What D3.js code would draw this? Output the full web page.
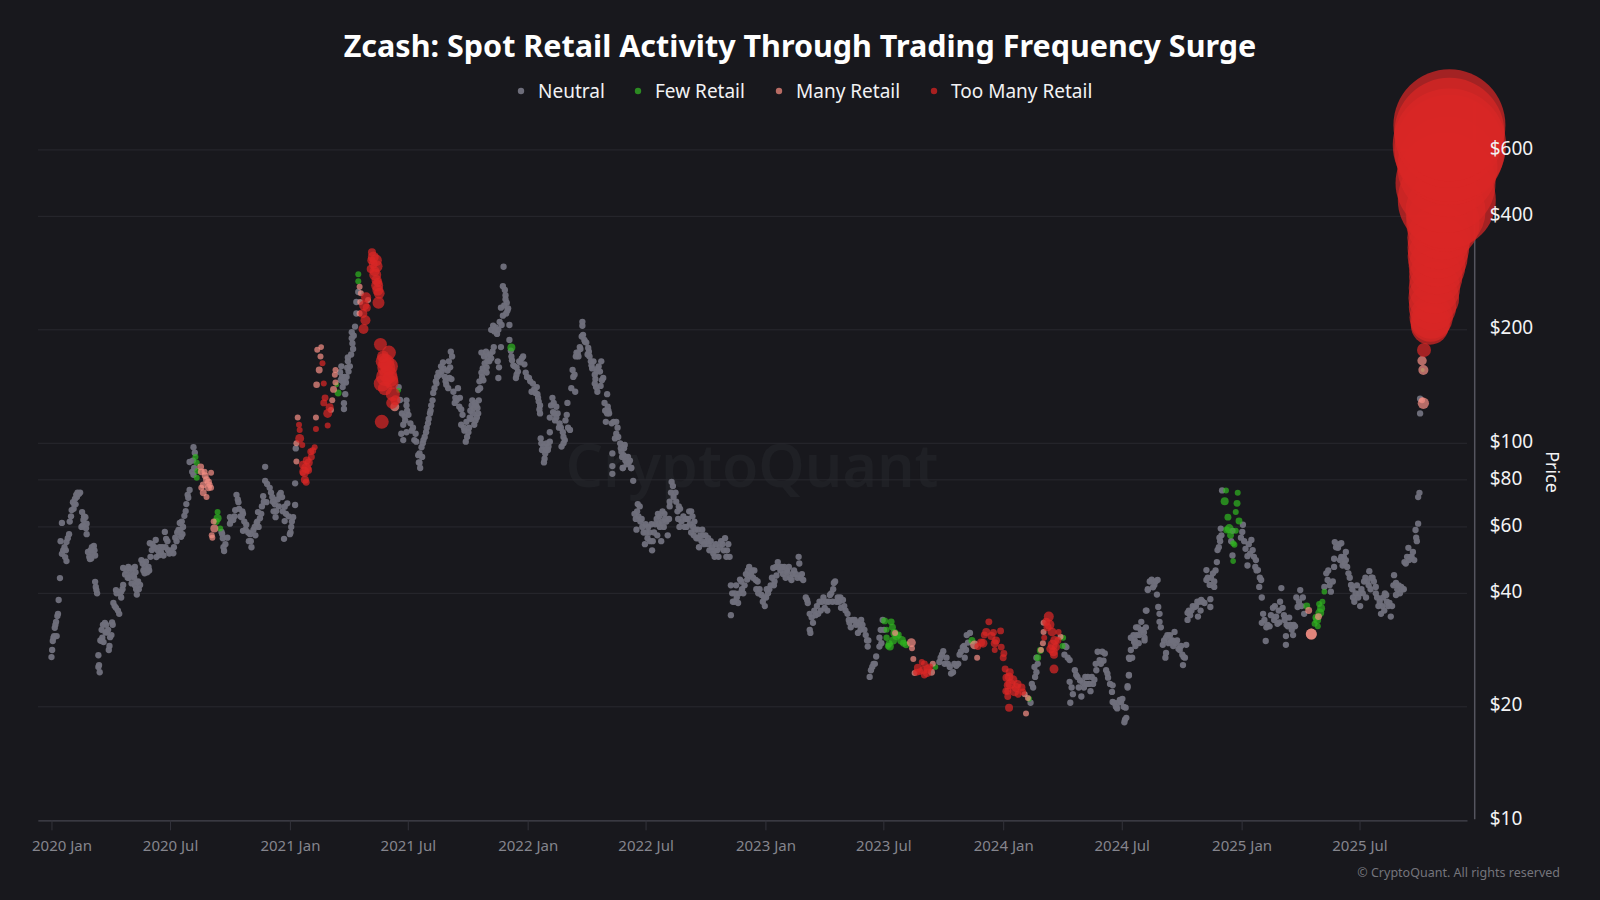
<!DOCTYPE html>
<html>
<head>
<meta charset="utf-8">
<script src="https://cdnjs.cloudflare.com/ajax/libs/d3/7.8.5/d3.min.js"></script>
<style>
  html, body { margin: 0; background: #18181d; }
  svg { display: block; font-family: "Noto Sans", "Open Sans", sans-serif; }
</style>
</head>
<body>
<svg id="chart"></svg>
<script>
const width = 1600;
const height = 900;

const titleText = "Zcash: Spot Retail Activity Through Trading Frequency Surge";
const seriesNames = ["Neutral", "Few Retail", "Many Retail", "Too Many Retail"];
const priceTicks = [10, 20, 40, 60, 80, 100, 200, 400, 600];
const dateTicks = ["2020-01-01", "2020-07-01", "2021-01-01", "2021-07-01", "2022-01-01", "2022-07-01",
  "2023-01-01", "2023-07-01", "2024-01-01", "2024-07-01", "2025-01-01", "2025-07-01"];
const firstDay = "2020-01-01";

// every point is [days since firstDay, price, bubble size], neutral ones all have the same size
const neutralSize = 10;
const neutralPoints = [
  [0,27.1],[1,28.3],[2,29.9],[4,30.8],[8,30.8],[5,32.4],[7,33.6],[10,35.3],[11,38.4],[13,43.9],[23,48.7],[21,49.9],
  [16,50.9],[20,53],[14,55],[27,57.4],[23,54.7],[16,61.5],[28,62],[31,66.5],[36,71.2],[33,69.8],[42,73.4],[39,72],
  [37,68.9],[47,65.7],[52,63.7],[46,60],[54,61.2],[49,62.6],[54,57.4],[62,53],[65,53.4],[56,51.5],[59,49.3],[67,50.4],
  [67,42.9],[68,41.6],[70,40],[72,27.4],[73,25.8],[74,24.7],[72,25.5],[77,29.9],[80,29.7],[88,28.3],[77,32],[82,33.4],
  [87,32],[90,30.6],[94,33],[95,37.7],[99,36.6],[104,35.3],[99,40.8],[107,40.4],[107,39],[110,42.1],[110,46.7],[118,47],
  [113,44.9],[119,44],[126,44.5],[128,47],[131,42.9],[136,42.1],[130,41],[131,39.7],[138,49],[143,47],[149,47],[143,45.2],
  [151,54.3],[160,55.4],[154,52.1],[161,49.9],[157,52.8],[166,53],[172,50.4],[174,58.2],[176,55.8],[179,52.1],[187,51.1],
  [190,56.2],[195,58.9],[201,57.4],[197,61.5],[204,64.2],[206,66.1],[210,71.7],[212,75.2],[212,89.2],[216,84],[218,97.6],
  [220,94.4],[218,82.5],
  [261,58.2],[270,56.2],[264,53],[265,51.8],[274,63.7],[279,62.6],[274,61.2],[284,73],[287,69.8],[282,66.5],[294,65],
  [292,63.7],[299,60.8],[294,58.6],[305,57.4],[307,53],[310,58.9],[315,61.5],[320,63.3],[317,65.7],[325,72.4],[328,86.6],
  [328,79.5],[335,76.2],[352,73.9],[330,69.8],[339,72],[343,68.9],[345,66.1],[344,63.7],[358,67.9],[362,69.3],[358,62.2],
  [371,63.7],[374,68.6],[368,60],[366,57.4],[357,55.8],[374,78.3],[375,96.9],
  [466,204],[461,197],[461,190],[462,184],[455,169],[460,172],[455,165],[454,158.7],[453,150],[452,145],[443,154.4],
  [444,147.2],[447,141],[451,135],[449,127.7],[449,123.3],[468,237],[471,252],[468,221],
  [533,141],[535,130.3],[545,130],[545,126],[548,119],[540,112],[537,106],[540,102],[545,107],[555,110],[559,106],[560,101],
  [565,94],[563,93],[564,89],[566,86],[565,88.8],[571,102],[568,97.6],[575,107],[578,113],[581,120],[583,126],[586,136],
  [591,144],[594,154],[601,164],[596,152],[604,150],[612,159],[613,175],[606,143],[611,149],[617,137],[624,140],[627,132],
  [619,128],[629,123],[631,119],[629,112],[637,114],[640,107],[636,101],[645,126],[652,126],[647,120],[655,120],[642,117],
  [651,115],[655,138.5],[657,146],[660,154],[665,163],[660,174],[670,170],[675,168],[679,180],[668,159],[690,180],[685,165],
  [687,159],[686,149],[663,147],[668,154],[675,200],[682,203],[684,195],[691,206],[703,206],[690,229],[693,218],[701,228],
  [698,221],[697,247],[697,241],[693,261],[694,294],[703,188],[706,170],[709,161],[714,159],[724,170],[720,164],[714,152],
  [713,149],[728,154],[733,149],[739,144],[745,141],[737,137],[747,132],[750,126],[750,120],[751,103],[755,98],[758,94],
  [756,89],[762,96],[765,101],[765,107],[769,132],[767,126],[775,125],[770,121],[775,117],[765,117],[780,113],[785,107],
  [791,119],[792,128],[788,102],[783,98],[796,108.5],[798,140],[804,137],[800,156.5],[803,152],[806,174],[811,180],[808,174],
  [816,194],[815,210],[815,205],[821,185],[824,179],[826,170],[829,161],[844,165],[839,158],[834,152],[847,149],[834,144],
  [838,137],[853,135],[849,128],[854,125],[853,120],[851,114],[860,113],[867,114],[867,106],[865,103],[873,100],[880,99],
  [861,94],[861,87],[861,83],[877,86],[875,95],[885,92],[890,86],[893,79.5],
  [882,92],[890,86],[877,86],[952,79],[954,77],[958,74],[949,70],[949,68],[959,70],[900,69],[895,65],[906,63],[898,59],
  [913,58],[921,61],[911,54],[923,55],[922,52],[936,55],[931,65],[929,63],[941,65],[934,60],[944,62],[965,67],[962,63],
  [982,66],[977,63],[987,62],[975,60],[982,58],[999,59],[993,56],[1008,56],[994,53],[1008,54],[1028,55],[1018,52],[1039,54],
  [1018,50],[1036,50],[1041,50],[1026,53],
  [1043,42],[1043,35],[1049,40],[1059,43],[1054,37.7],[1062,40],[1069,46],[1079,46],[1072,44.6],[1081,43.4],[1082,41],
  [1090,39.6],[1095,37],[1100,40],[1110,43],[1108,46.7],[1115,48.4],[1113,44.6],[1128,46],[1136,43.4],[1143,45],[1154,43.4],
  [1147,50],[1148,48],[1158,39],[1161,37.7],[1164,35.3],[1164,32],[1165,31.4],[1169,33.4],[1179,38],[1177,35.3],[1187,36.6],
  [1195,39.6],[1201,42.6],[1200,41],[1205,38],[1215,38.4],[1212,36.6],[1222,35.3],[1225,33.4],[1233,34],[1243,34],[1238,31.4],
  [1248,32],[1252,30],[1253,28.9],[1271,30.5],[1271,28.9],[1276,34],[1266,27.2],[1264,26],[1258,25],[1256,24],
  [1369,28.1],[1374,27],[1363,26.3],[1379,25.5],[1384,24.7],[1389,25.7],[1394,27.5],[1399,28.8],[1410,31.4],[1407,29.6],[1404,28.3],
  [1507,22.5],[1503,20.5],[1509,25.5],[1512,24.7],[1512,27],
  [1558,28.8],[1555,27.5],[1563,26.6],[1563,23.3],[1573,24.3],[1583,23.2],[1568,21.6],[1564,20.5],[1581,21.3],[1595,22],
  [1601,23.6],[1606,28],[1617,27.7],[1609,26.6],[1604,25],[1619,25],[1622,23.9],[1629,22.8],[1628,21.9],[1634,20],[1640,20.85],
  [1649,19.9],[1629,20.6],[1650,18.7],[1647,18.2],[1654,24.2],[1652,22.5],[1655,26.8],[1657,28.3],[1663,30],[1673,33.6],
  [1668,32.5],[1678,30.5],[1680,36],[1683,40.8],
  [1686,43],[1698,43.4],[1683,41],[1693,42.1],[1697,39.7],[1699,36.8],[1701,35.3],[1701,33.6],[1703,32.5],[1681,36],[1680,32.5],
  [1665,32.5],[1678,30],[1657,30.5],[1662,29.7],[1654,27],[1654,24.3],[1652,22.7],
  [1724,31.6],[1711,30.5],[1719,30],[1706,29.2],[1726,29.5],[1742,29.2],[1711,27.8],[1710,27],[1732,28.3],[1738,27.1],[1737,25.8],
  [1744,34],[1755,36.8],[1744,35.5],[1765,38.4],[1760,34.7],[1770,37.7],[1779,38.6],[1779,36.8],[1773,43.4],[1773,46.1],[1783,45.2],
  [1778,42.1],[1785,41.6],[1785,43],[1789,48.4],[1790,52.1],[1793,56.2],[1795,59.4],[1797,75],[1813,58.6],[1813,50.4],[1829,60.8],
  [1828,58.2],[1826,56.2],[1833,52.5],[1842,55.4],[1844,52.1],[1836,50.2],[1849,49],[1836,47.4],[1852,46.1],[1857,43.4],[1854,41.6],
  [1888,41.3],[1858,39],[1860,35.3],[1858,33.4],[1865,32.5],[1875,36.6],[1886,38],[1890,36.6],[1880,34.7],[1882,33.2],[1870,32.7],
  [1893,34],[1900,34.5],[1898,32.7],[1909,32.7],[1906,31],[1895,30.8],[1895,29.2],[1864,29.9],[1913,36.8],[1911,39],[1917,40.8],
  [1921,39],[1923,35.3],[1957,45.2],[1959,43.4],[1954,41.6],[1967,43],[1964,40.4],[1970,54.7],[1980,54.3],[1975,52.8],[1987,51.5],
  [1980,50],[1969,49.4],[1987,49],[1982,47.4],[1969,47],[1991,45.2],[1995,42.1],[2000,38],[2008,40],[2009,37],[2015,43],[2023,45.8],
  [2028,44],[2018,39],[2033,41.6],[2033,40],[2044,39],[2041,35.3],[2049,39.6],[2054,37.7],[2056,34.7],[2061,44.7],[2064,42.6],
  [2072,41.6],[2074,41],[2064,39.6],[2077,48.4],[2084,49],[2083,52.8],[2092,49],[2090,51.5],[2095,56.2],[2094,58.9],[2098,61.2],
  [2098,72],[2100,73.9],[2101,131.3],[2101,120],
  // second pass over the thick parts of the band
  [3,30.5],[6,33],[9,34.8],[18,52],[22,52],[25,56],[30,64],[34,67],[38,73],[40,74],[44,74],[35,69],[50,64],[48,60.5],[53,59.5],
  [60,52],[63,51],[58,50],[66,52],[61,49.5],[69,40.8],[75,30],[78,30.5],[79,33],[84,33],[85,31.5],[89,29],[92,31],[93,33.5],[83,31.5],
  [97,37],[102,36],[100,40],[105,40],[109,41],[115,46],[120,46.5],[122,45],[124,46.5],[117,44],[123,42.5],[127,44],[133,43],[128,42],
  [134,41],[129,45.5],[140,48],[141,46],[145,48.5],[147,45.5],[150,46],[152,50],[155,54],[158,53],[163,52],[165,50.5],[168,51.5],[170,53],
  [175,53],[178,55],[181,51],[184,52],[188,53],[192,55],[193,58],[198,59],[199,56.5],[200,62],[202,60],[207,69],[209,73],[217,90],[219,86],
  [263,56],[267,54],[262,57.5],[276,62.5],[281,64],[286,71],[288,67],[290,64],[296,62],[293,66],[298,59],[302,58],[303,55],[306,55],
  [312,60],[313,57],[316,62],[318,60],[322,65],[323,68],[326,70],[331,78],[337,74],[340,70],[350,73],[354,72],[347,71],[341,66],[349,68],
  [355,66],[360,65],[364,64],[369,62],[367,58],[448,145],[450,150],[456,155],[458,160],[463,178],[464,193],[446,150],[445,160],
  [538,120],[542,118],[551,113],[553,108],[557,102],[543,115],[546,122],[569,92],[570,100],[573,104],[576,110],[579,116],[582,122],
  [585,130],[588,140],[590,146],[592,150],[598,160],[599,155],[602,158],[605,146],[608,156],[610,165],[615,170],[609,140],[614,148],
  [620,132],[622,130],[626,125],[633,110],[638,104],[634,108],[643,122],[644,116],[648,124],[650,128],[654,124],[649,112],[653,117],
  [646,130],[641,110],[656,130],[658,140],[661,150],[662,158],[664,170],[667,175],[672,165],[673,172],[677,175],[669,165],[680,198],
  [678,205],[686,200],[688,210],[695,232],[699,236],[696,255],[700,225],[705,176],[707,166],[711,160],[716,155],[718,165],[722,168],
  [726,162],[730,150],[735,146],[741,139],[743,136],[746,135],[748,129],[749,123],[752,100],[753,96],[757,91],[759,96],[760,100],[763,98],
  [771,128],[772,120],[773,115],[777,120],[779,110],[782,110],[786,104],[789,115],[793,110],[786,100],[801,150],[805,170],[809,170],
  [812,178],[814,192],[818,188],[819,186],[823,172],[825,175],[828,165],[830,158],[832,165],[835,148],[837,155],[840,160],[842,155],
  [845,147],[843,142],[836,141],[850,122],[855,122],[856,120],[863,114],[869,110],[870,104],[874,97],[876,92],[878,93],[881,90],[883,88],
  [886,89],[888,90],[879,97],[897,63],[899,66],[901,64],[903,68],[904,62],[907,60],[909,58],[912,61],[915,56],[916,60],[918,58],[919,55],
  [925,58],[927,61],[930,57],[932,61],[933,64],[937,62],[938,66],[940,60],[942,63],[946,57],[948,63],[951,74],[955,72],[961,66],[963,68],
  [964,60],[967,62],[970,64],[972,60],[974,63],[979,66],[980,61],[984,64],[985,60],[986,57],[988,59],[990,56],[992,59],[996,57],[998,55],
  [1000,57],[1002,54],[1004,57],[1006,55],[1010,52],[1012,55],[1014,53],[1016,51],[1020,54],[1022,52],[1024,50],[1030,54],[1032,52],
  [1034,56],[1037,52],[1045,40],[1046,38],[1048,38],[1051,42],[1052,39],[1056,40],[1057,43.5],[1060,41],[1064,42],[1066,45],[1068,43.5],
  [1071,47],[1074,45],[1076,46],[1077,44],[1084,43],[1085,40],[1087,41],[1092,38],[1094,39],[1097,39],[1098,41],[1102,41],[1104,42],
  [1106,44],[1109,42],[1112,47],[1117,47],[1119,46],[1121,47],[1123,45],[1125,47],[1127,44],[1130,45.5],[1132,47],[1134,44],[1138,45],
  [1140,46],[1145,44],[1150,44],[1152,45],[1160,38.4],[1167,34.5],[1171,36],[1173,35],[1175,37],[1181,36],[1183,38],[1185,39],[1189,38],
  [1191,36],[1193,38],[1197,40],[1199,38],[1203,43],[1207,39],[1209,38],[1211,39],[1217,37],[1219,36],[1224,34],[1227,32.5],[1230,34],
  [1235,33],[1240,33],[1237,33.5],[1242,32],[1245,33],[1250,31],[1254,30],[1260,25.5],[1262,26],[1273,32],[1274,29.5],[1278,32],
  [1365,27],[1367,27.5],[1371,26],[1376,26],[1381,24.5],[1386,26],[1392,26],[1396,28],[1401,29],[1402,27],[1405,31],[1505,23],[1510,24],
  [1514,26],[1556,29],[1560,27],[1566,22.5],[1571,25],[1575,24],[1577,22.5],[1579,23.5],[1585,22.5],[1587,24],[1589,23],[1591,24],[1593,23],
  [1597,24],[1599,23],[1603,26],[1611,26],[1613,28],[1615,26.5],[1621,24.5],[1625,23],[1631,20.5],[1636,19.8],[1638,20.5],[1642,20.6],
  [1644,21],[1646,20],[1648,18.5],[1659,27],[1661,31],[1664,29],[1666,31],[1670,31],[1672,32],[1675,32],[1677,31.5],[1669,29.5],[1689,43.5],
  [1691,41.5],[1695,43],[1708,30],[1713,31],[1715,29.5],[1717,31],[1721,30],[1722,29],[1728,30],[1730,28.5],[1734,29],[1736,27.5],[1740,27],
  [1746,36],[1748,35],[1750,36],[1752,37],[1757,37],[1759,38],[1762,38],[1764,36],[1767,38],[1775,44],[1780,44],[1787,46],[1792,53],[1794,55],
  [1796,57],[1811,55],[1831,55],[1838,54],[1840,51],[1846,50],[1848,47],[1850,46],[1855,44],[1862,34],[1867,33],[1872,35],[1877,34],[1878,37],
  [1884,36],[1885,33.5],[1892,35],[1896,33],[1902,33],[1904,32],[1907,33],[1915,38],[1919,37],[1960,46],[1962,42],[1972,53],[1977,54],[1978,49],
  [1984,50],[1985,48],[1989,47],[1993,44],[1997,41],[1998,39],[2002,40],[2004,42],[2006,39],[2011,41],[2013,40],[2017,44],[2020,43],[2022,42],
  [2025,41],[2026,44],[2030,43],[2035,39],[2037,37],[2039,38],[2043,37],[2046,36],[2047,40],[2050,38],[2052,37],[2058,37],[2060,42],[2066,41],
  [2068,42],[2070,40],[2076,41],[2079,48],[2081,50],[2086,50],[2088,50],[2096,55]
];
const fewPoints = [
  [221,92,9],[223,88.8,9],[224,84.5,9],[223,81,9],[255,65.7,9],[255,63.3,16],[253,62,12],[259,59.4,9],
  [471,281,9],[471,269,9],[440,136,12],[438,143,6],[533,138,6],[706,179.5,16],
  [1279,33.8,12],[1289,33.6,12],[1282,32,9],[1294,31.4,16],[1282,30.5,10],[1287,28.9,16],[1305,30,20],[1312,29.2,12],[1297,30.8,16],
  [1291,32.5,12],[1286,29.4,12],[1300,31,12],[1292,30,16],[1284,29,9],[1308,29.5,12],[1413,30,12],[1514,27,12],[1518,28.2,12],
  [1553,30.5,9],[1552,29,9],[1357,25.5,8],[1501,21,8],
  [1803,75,9],[1821,73.9,9],[1801,70.2,16],[1820,69.3,12],[1818,65.7,9],[1806,63.7,12],[1823,62.2,12],[1808,59.4,20],[1804,58.9,12],
  [1810,57,12],[1818,58.6,9],[1814,54.3,9],[1816,53.8,9],[1814,48.7,8],
  [1954,40.4,8],[1927,37,12],[1951,38,9],[1946,37.5,9],[1947,35.5,20],[1949,36.5,16],[1943,34,16],[1941,34.5,12],[1939,33.2,9],[1944,32.7,9],[2105,156.5,4]
];
const manyPoints = [
  [229,86.6,12],[235,84,9],[245,83.5,9],[230,84,12],[238,80,12],[243,77.5,9],[233,77.5,12],[241,76.2,12],[245,76.2,9],[230,76.2,9],
  [233,73.9,12],[238,72,9],[236,82,12],[241,79,12],[249,62,9],[250,59.4,16],[246,57,9],[247,56.2,9],
  [414,180,8],[408,177,9],[413,170,9],[411,156.5,12],[436,156.5,9],[435,152,9],[436,145,9],[433,139,12],[407,143,11],[431,130,9],
  [429,122.6,9],[406,117,9],[378,117,9],[376,100,9],[376,89.5,9],[473,260,9],[475,250,9],[486,240,9],[474,237,9],[473,221,9],[527,125,20],
  [1320,29.6,20],[1295,31.4,9],[1321,28.6,9],[1323,26.8,9],[1325,24.6,9],[1353,26,9],[1351,24.7,12],[1417,29.2,20],[1421,27,9],
  [1499,21.1,9],[1519,28.3,9],[1523,31.6,9],[1522,29.5,9],[1523,33.4,9],[1549,30.7,9],[1496,19.2,9],[1494,21.6,9],
  [1930,36,12],[1945,34.7,12],[1934,31.2,30],[1934,31.2,30],[2104,165.6,22],[2106,156.5,25],[2106,127.7,32],[2104,130,9]
];
const tooManyPoints = [
  [391,78.8,12],[386,83.5,9],[391,86,25],[386,87.7,16],[395,89,16],[399,92,12],[401,95.6,12],[404,97.6,9],[385,99,9],[381,103,20],
  [388,84,25],[392,90,16],[394,85,16],[389,80,16],[398,95,12],
  [381,108.5,9],[380,112,9],[406,109.2,9],[424,111.4,9],[424,120,20],[427,124.7,16],[420,132,12],[418,128,12],[418,144,9],[416,163,9],
  [483,244,25],[478,221,20],[484,229,16],[501,255,30],[502,236,36],[479,201,25],[499,271,25],[496,286,25],[498,306,36],[491,306,16],
  [492,321,16],[494,299,20],[501,267,20],[497,280,36],[499,295,36],[500,262,36],[503,250,30],[494,312,30],[490,290,16],[480,232,25],[482,212,25],
  [505,183,42],[518,174,49],[514,164,64],[514,158.7,81],[517,152,81],[507,144,64],[524,135,49],[522,145,49],[507,114,49],
  [510,165,64],[512,150,81],[518,160,81],[520,148,64],[512,140,49],[523,128,36],[528,130,25],[509,170,36],
  [1336,26.3,9],[1330,25.4,16],[1338,25,16],[1345,25.2,16],[1340,24.3,12],[1328,24.7,12],[1348,25.5,12],[1340,26,12],[1333,24.8,12],[1344,24.6,16],
  [1439,33.6,12],[1435,31.6,16],[1427,29.6,16],[1422,28.9,12],[1443,30.8,16],[1450,30,16],[1457,31.8,12],[1448,29.5,16],[1448,28.3,9],
  [1432,31,12],[1430,29.5,20],[1446,31.5,12],
  [1458,28.8,12],[1462,27.7,12],[1461,27,12],[1464,25.2,12],[1471,24.7,16],[1466,23.9,16],[1476,23.6,20],[1468,22.8,16],[1481,22.5,20],
  [1472,23,25],[1478,22,25],[1470,24,20],[1483,23,16],[1465,22,12],
  [1489,22.5,16],[1468,22,12],[1468,21.3,12],[1484,21.6,12],[1491,21.9,12],[1470,19.9,16],
  [1531,34.7,25],[1527,33.6,16],[1536,31.6,20],[1524,30.5,9],[1546,31.6,9],[1545,30,12],[1537,29.2,25],[1542,28.8,16],[1539,27.5,16],[1539,25.2,20],
  [1529,32.5,16],[1532,33,25],[1540,30,20],[1534,28.5,20],[1538,28,20],
  [2107,176.8,49],[2116,205,361],[2117,210,400],[2118,216,469],[2120,230,560],[2122,243,642],[2123,258,660],[2125,276,711],[2127,295,800],[2128,312,900],
  [2129,330,950],[2130,351,1003],[2136,384,1344],[2140,412,1600],[2142,442,2401],[2140,490,2500],[2143,541,2500],[2146,600,3025],[2146,618,3211],
  [2146,666,3025],[2146,698,3136]
];

const start = new Date(firstDay);
const pointDate = (d) => d3.utcDay.offset(start, d[0]);

const svg = d3.select("#chart").attr("width", width).attr("height", height);

const xScale = d3
  .scaleUtc()
  .domain([new Date("2019-12-11"), new Date("2025-12-13")])
  .range([37.8, 1467]);

const yScale = d3.scaleLog().domain([10, 1000]).range([820.3, 66.3]);

// radius grows with the square root of the size value
const rScale = d3.scaleSqrt().domain([0, 3136]).range([0, 56]);

// watermark
svg
  .append("text")
  .attr("x", 752)
  .attr("y", 487)
  .attr("text-anchor", "middle")
  .attr("font-size", 59)
  .attr("font-weight", 600)
  .attr("fill", "#1f2025")
  .text("CryptoQuant");

// grid lines
svg
  .append("g")
  .selectAll("line")
  .data(priceTicks.slice(1))
  .join("line")
  .attr("x1", 38)
  .attr("x2", 1467)
  .attr("y1", (d) => yScale(d))
  .attr("y2", (d) => yScale(d))
  .attr("stroke", "#29292f");

// x axis
const xAxis = svg
  .append("g")
  .attr("transform", "translate(0," + yScale(10) + ")")
  .call(
    d3
      .axisBottom(xScale)
      .tickValues(dateTicks.map((d) => new Date(d)))
      .tickFormat(d3.utcFormat("%Y %b"))
      .tickSize(10)
      .tickSizeOuter(0)
      .tickPadding(10)
  );
xAxis.select(".domain").attr("stroke", "#44444f").attr("stroke-width", 1.2);
xAxis.selectAll(".tick line").attr("stroke", "#33333b");
xAxis
  .selectAll(".tick text")
  .attr("fill", "#85858d")
  .attr("font-family", '"Noto Sans", sans-serif')
  .attr("font-size", 15);
xAxis
  .selectAll(".tick text")
  .filter((d, i) => i === 0)
  .attr("dx", 10);

// y axis line sits under the bubbles, its labels go on top
svg
  .append("line")
  .attr("x1", 1474.7)
  .attr("x2", 1474.7)
  .attr("y1", yScale(10) - 1)
  .attr("y2", yScale(800))
  .attr("stroke", "#55555f")
  .attr("stroke-width", 1.5);

const seriesColors = ["#6f6f7c", "#2fb320", "#f38d83", "#da2726"];
const seriesOpacity = [0.97, 0.72, 0.72, 0.72];
const seriesData = [neutralPoints, fewPoints, manyPoints, tooManyPoints];

seriesData.forEach((points, i) => {
  svg
    .append("g")
    .selectAll("circle")
    .data(points)
    .join("circle")
    .attr("cx", (d) => xScale(pointDate(d)))
    .attr("cy", (d) => yScale(d[1]))
    .attr("r", (d) => rScale(d[2] || neutralSize))
    .attr("fill", seriesColors[i])
    .attr("fill-opacity", seriesOpacity[i]);
});

const yAxis = svg
  .append("g")
  .attr("transform", "translate(1474.7,0)")
  .call(
    d3
      .axisRight(yScale)
      .tickValues(priceTicks)
      .tickFormat((d) => "$" + d)
      .tickSize(0)
      .tickPadding(15)
  );
yAxis.select(".domain").remove();
yAxis
  .selectAll(".tick text")
  .attr("fill", "#f2f2f4")
  .attr("font-family", '"Noto Sans", sans-serif')
  .attr("font-size", 19)
  .attr("dy", "0.22em");

svg
  .append("text")
  .attr("transform", "translate(1546,472) rotate(90)")
  .attr("text-anchor", "middle")
  .attr("font-size", 18)
  .attr("fill", "#f2f2f4")
  .text("Price");

// title
svg
  .append("text")
  .attr("x", 800)
  .attr("y", 57)
  .attr("text-anchor", "middle")
  .attr("font-size", 30.5)
  .attr("font-weight", 700)
  .attr("fill", "#ffffff")
  .text(titleText);

// legend
const legendDotX = [521, 638, 779, 934];
const legendColors = ["#6d6d7a", "#2c8a22", "#b86c64", "#a82020"];
const legend = svg
  .append("g")
  .selectAll("g")
  .data(seriesNames)
  .join("g")
  .attr("transform", (d, i) => "translate(" + legendDotX[i] + ",91)");
legend
  .append("circle")
  .attr("r", 3.2)
  .attr("fill", (d, i) => legendColors[i]);
legend
  .append("text")
  .attr("x", 17)
  .attr("y", 6.5)
  .attr("font-size", 19)
  .attr("fill", "#f2f2f4")
  .text((d) => d);

// copyright
svg
  .append("text")
  .attr("x", 1560)
  .attr("y", 877)
  .attr("text-anchor", "end")
  .attr("font-size", 12.5)
  .attr("fill", "#75757c")
  .text("© CryptoQuant. All rights reserved");
</script>
</body>
</html>
